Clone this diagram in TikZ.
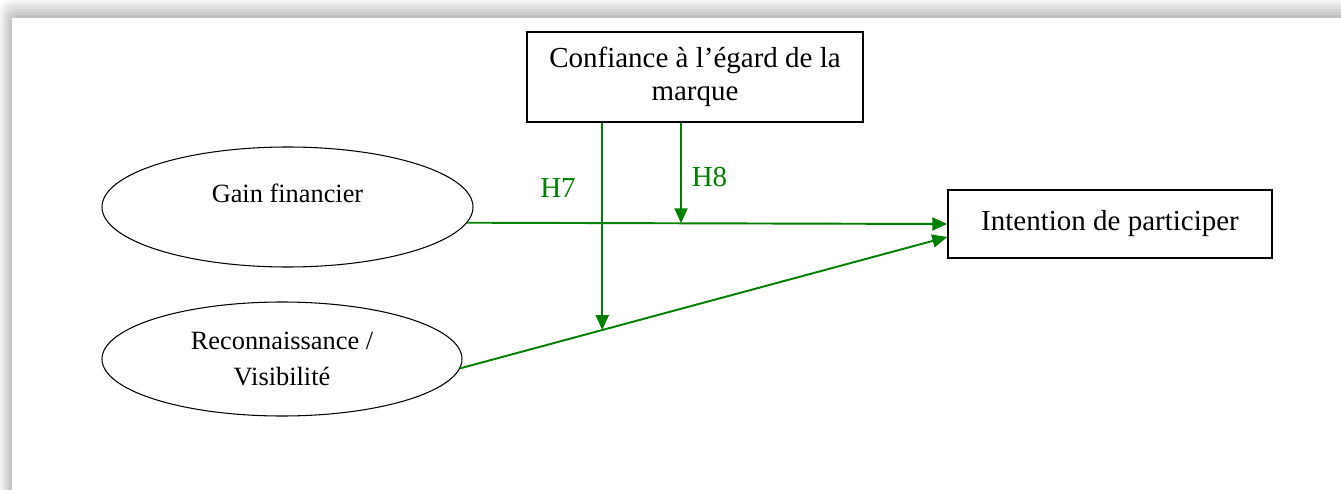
\documentclass[tikz,border=0pt]{standalone}
\usepackage{fontspec}
\setmainfont{Liberation Serif}
\usetikzlibrary{arrows.meta,shapes.geometric}
\definecolor{hypgreen}{RGB}{0,128,0}

\begin{document}
\begin{tikzpicture}[
  every node/.style={font=\fontsize{16.5}{19}\selectfont},
  box/.style={draw, line width=0.85pt, minimum width=6.72cm, minimum height=1.8cm, align=center, inner sep=2pt},
  oval/.style={draw, ellipse, line width=0.6pt, align=center, inner sep=0pt, font=\fontsize{15}{20}\selectfont},
  arr/.style={-{Triangle[length=0.3cm, width=0.26cm]}, hypgreen, line width=1.1pt},
  hyp/.style={text=hypgreen}
]
  \useasboundingbox (0,0) rectangle (26.82,9.78);

  %% Page frame with soft shadow on top and left
  \foreach \k/\g in {0/4,1/8,2/12,3/16,4/20,5/24} {
    \fill[black!\g, rounded corners=0.2cm] (0.04*\k,-0.5) rectangle (27.3,9.78-0.06*\k);
  }
  \fill[white] (0.24,-0.5) rectangle (27.3,9.42);

  %% Constructs
  \node[box] (conf) at (13.9,8.24) {Confiance à l’égard de la\\marque};
  \node[box, minimum width=6.48cm, minimum height=1.36cm] (intent) at (22.2,5.3) {Intention de participer};

  \node[oval, minimum width=7.42cm, minimum height=2.4cm, text depth=0.56cm] (gain) at (5.75,5.64) {Gain financier};
  \node[oval, minimum width=7.2cm, minimum height=2.28cm] (recon) at (5.64,2.6) {Reconnaissance /\\Visibilité};

  %% Direct effects
  \draw[arr] (gain.-5) -- coordinate[pos=0.4455] (m8) (intent.west);
  \draw[arr] (recon.-3) -- coordinate[pos=0.2917] (m7) ([yshift=-0.26cm]intent.west);

  %% Moderation by trust
  \draw[arr] (conf.south -| m7) -- (m7);
  \draw[arr] (conf.south -| m8) -- (m8);

  \node[hyp] (h7) at (11.16,6.02) {H7};
  \node[hyp] (h8) at (14.19,6.24) {H8};

\end{tikzpicture}
\end{document}
